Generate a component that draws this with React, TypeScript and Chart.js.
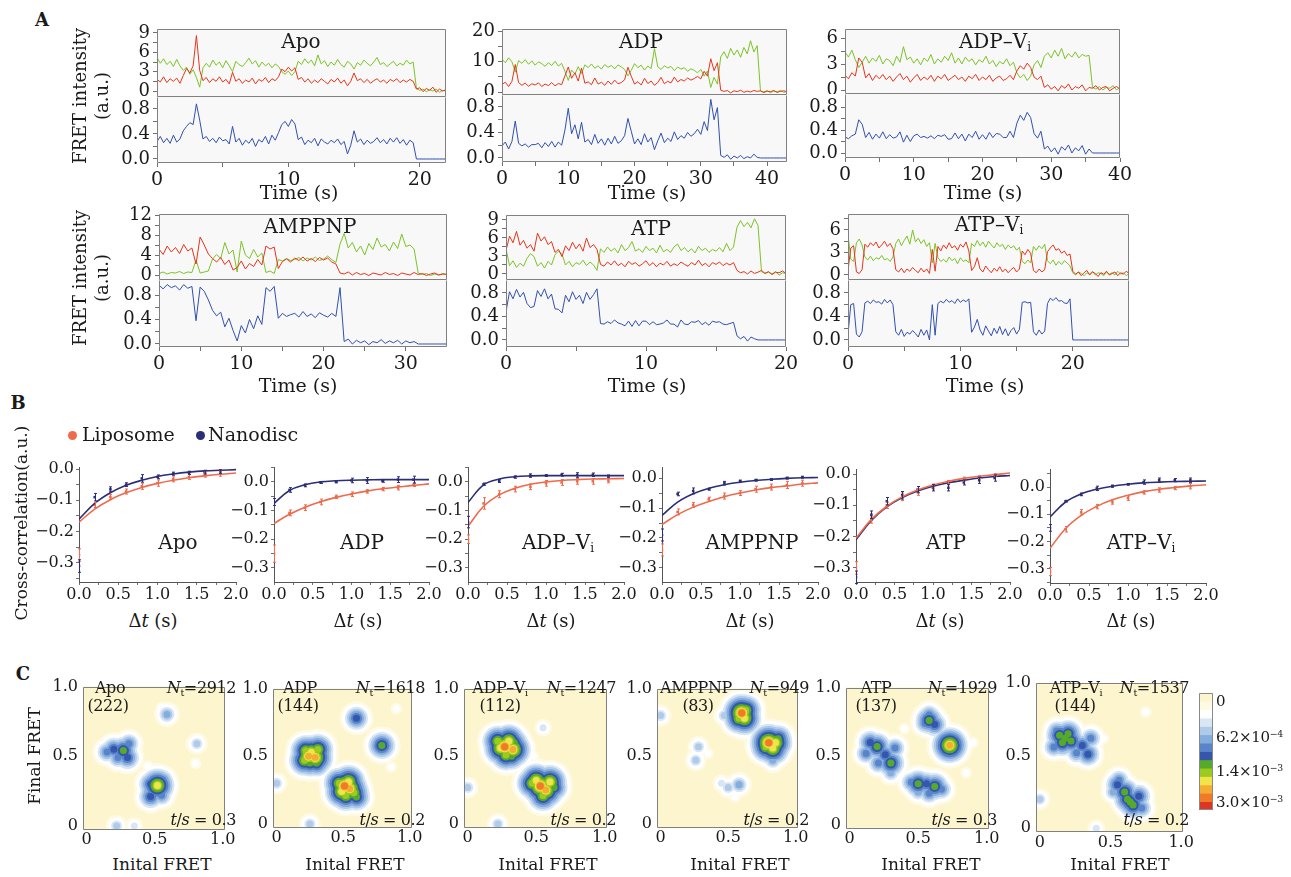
import React, { useEffect, useRef } from "react";
import { Chart, registerables } from "chart.js";

Chart.register(...registerables);

const FONT = "'DejaVu Serif', 'Liberation Serif', serif";
const INK = "#1a1a1a";
const GREEN = "#7cc425";
const RED = "#e8341c";
const BLUE = "#3150b0";
const LIPO = "#ef6a4c";
const NANO = "#2b2e76";
const PLOT_BG = "#f8f8f8";
const FRAME = "#808080";

// ---------------- Panel A : single-molecule traces ----------------
const apoDt = 0.25;
const apoGreen = [5.2,4.3,5.0,4.1,4.6,3.8,4.9,3.9,3.2,3.7,2.6,3.3,2.1,0.6,3.6,4.3,3.7,4.8,4.0,4.5,3.6,4.7,3.9,3.0,4.6,4.1,3.8,4.4,5.1,4.2,4.7,3.7,4.5,3.9,4.3,3.6,4.2,3.8,3.0,2.6,3.1,2.4,3.0,4.6,4.1,5.0,4.3,4.8,3.9,5.6,4.2,4.7,3.8,4.5,4.0,4.9,4.1,3.7,4.6,4.2,3.4,4.4,4.0,4.8,4.3,3.9,4.5,5.2,4.1,4.4,3.8,4.2,4.6,3.9,4.3,4.0,4.8,4.2,4.5,0.4,0.1,0.3,-0.1,0.2,0.0,0.3,-0.2,0.1,0.0];
const apoRed = [1.8,1.4,2.2,1.3,1.9,1.5,2.0,1.2,2.4,3.5,2.8,3.9,8.6,3.2,1.6,2.1,1.3,1.9,1.5,2.2,1.4,1.8,1.1,2.9,1.5,1.9,1.2,1.7,1.4,2.0,1.1,1.8,1.5,2.1,1.3,1.9,1.6,2.2,3.4,3.0,3.7,3.1,3.6,1.8,2.1,1.4,1.9,1.2,1.7,1.3,1.9,1.5,1.1,1.8,1.4,2.0,1.2,1.7,0.8,1.5,2.8,1.6,1.9,1.3,1.8,1.2,1.6,1.9,1.4,1.7,1.2,1.8,1.5,1.9,1.3,1.7,1.4,1.8,1.5,0.3,0.5,-0.1,0.4,0.1,0.6,-0.2,0.3,0.0,0.2];
const apoFret = [0.28,0.36,0.26,0.33,0.25,0.38,0.27,0.32,0.45,0.52,0.58,0.55,0.88,0.62,0.32,0.36,0.28,0.33,0.26,0.35,0.29,0.31,0.24,0.52,0.27,0.33,0.22,0.3,0.25,0.33,0.2,0.31,0.27,0.36,0.24,0.38,0.3,0.42,0.55,0.6,0.52,0.63,0.56,0.31,0.35,0.23,0.3,0.26,0.33,0.21,0.32,0.27,0.24,0.3,0.26,0.32,0.23,0.28,0.08,0.22,0.45,0.27,0.32,0.23,0.3,0.25,0.28,0.34,0.26,0.31,0.24,0.33,0.27,0.34,0.25,0.31,0.22,0.3,0.26,0,0,0,0,0,0,0,0,0,0];

const adpDt = 0.5;
const adpGreen = [10.8,9.6,11.2,9.9,6.5,10.3,9.4,10.6,9.1,10.2,8.8,9.9,9.3,8.4,9.6,8.7,10.1,8.5,9.4,6.8,3.8,7.2,5.9,8.3,6.1,8.9,8.0,9.2,7.8,8.6,7.5,9.0,8.1,8.7,7.6,8.9,8.2,7.4,5.3,7.1,9.3,8.0,8.8,7.2,8.5,7.7,14.2,8.3,7.4,8.6,7.9,8.4,7.0,8.2,7.5,8.0,6.8,7.6,7.1,6.3,7.4,5.2,6.9,1.5,4.8,2.6,11.5,13.2,11.0,14.3,12.1,13.8,11.4,14.6,12.5,16.8,13.1,15.2,0.3,0.1,0.4,-0.2,0.3,0.0,0.5,-0.1,0.2];
const adpRed = [2.5,3.2,1.8,3.5,9.0,3.1,2.2,2.9,1.9,2.7,2.3,3.0,1.8,2.6,2.1,3.1,2.0,2.8,2.4,5.3,8.2,4.5,6.3,3.6,7.8,2.9,3.3,2.4,4.6,2.6,3.2,2.2,3.6,2.5,3.9,2.7,3.1,4.0,8.1,5.2,2.6,3.4,2.3,4.5,2.8,3.6,2.2,3.1,4.8,2.7,3.5,3.0,4.9,3.3,4.1,3.6,4.6,3.9,4.4,5.1,4.3,6.8,5.2,10.9,7.0,9.6,0.6,0.2,0.5,-0.3,0.4,0.1,0.6,-0.1,0.3,0.0,0.5,0.2,0.4,-0.2,0.3,0.1,0.5,-0.1,0.2,0.4,0.1];
const adpFret = [0.19,0.25,0.14,0.26,0.58,0.23,0.19,0.22,0.17,0.21,0.21,0.23,0.16,0.24,0.18,0.26,0.17,0.25,0.2,0.44,0.78,0.38,0.52,0.3,0.56,0.25,0.29,0.21,0.37,0.23,0.3,0.2,0.31,0.22,0.34,0.23,0.27,0.35,0.62,0.42,0.22,0.3,0.21,0.38,0.25,0.32,0.13,0.27,0.39,0.24,0.31,0.26,0.41,0.29,0.35,0.31,0.4,0.34,0.38,0.45,0.37,0.57,0.43,0.92,0.6,0.79,0.04,0.01,0.05,-0.02,0.03,0.0,0.04,-0.01,0.02,0.0,0.06,0.01,0,0,0,0,0,0,0,0,0];

const adpViDt = 0.5;
const adpViGreen = [4.4,3.8,4.6,3.5,2.6,3.2,3.9,3.1,3.7,3.3,4.0,3.0,3.6,3.4,2.8,3.9,3.2,5.0,3.5,3.8,3.1,3.6,2.9,3.7,3.3,4.1,3.0,3.6,3.2,3.9,3.4,4.3,3.1,3.7,3.0,3.8,3.3,3.6,2.9,3.5,3.2,3.9,3.0,3.4,2.7,3.3,3.0,3.6,2.8,3.2,2.0,1.4,1.8,1.1,1.6,2.9,3.4,2.6,3.9,4.3,3.7,4.6,3.9,4.8,3.6,4.2,3.8,4.4,3.7,4.1,3.9,4.0,0.3,0.1,0.4,0.0,0.3,0.2,0.5,0.0,0.3];
const adpViRed = [1.7,1.3,2.0,1.6,3.7,3.2,1.4,1.9,1.1,1.7,1.3,1.8,1.2,1.6,1.0,1.5,1.9,1.2,1.6,0.9,1.4,1.8,1.1,1.5,1.2,1.7,1.0,1.6,1.3,1.8,1.1,1.4,1.7,1.2,1.5,1.0,1.6,1.3,1.8,1.1,1.5,1.2,1.7,1.0,1.4,1.6,1.1,1.3,1.7,1.2,2.2,2.8,2.4,3.1,2.6,1.5,1.2,1.6,0.3,0.6,0.1,0.4,-0.1,0.5,0.2,0.7,0.0,0.4,0.2,0.6,-0.1,0.3,0.2,0.5,0.0,0.3,0.4,-0.1,0.2,0.4,0.1];
const adpViFret = [0.28,0.25,0.3,0.33,0.58,0.5,0.27,0.36,0.24,0.33,0.26,0.37,0.25,0.32,0.26,0.28,0.37,0.19,0.31,0.2,0.3,0.33,0.27,0.29,0.26,0.3,0.25,0.31,0.29,0.32,0.24,0.25,0.35,0.25,0.33,0.21,0.33,0.27,0.38,0.24,0.32,0.24,0.36,0.27,0.34,0.33,0.27,0.27,0.38,0.27,0.52,0.66,0.57,0.71,0.62,0.34,0.26,0.38,0.07,0.12,0.02,0.09,-0.02,0.11,0.05,0.14,0.0,0.09,0.04,0.13,-0.02,0.07,0,0,0,0,0,0,0,0,0];

const amppnpDt = 0.5;
const amppnpRed = [5.2,4.1,5.8,4.6,5.5,4.3,6.1,4.8,5.4,2.2,7.6,6.0,4.2,3.3,2.6,3.5,2.1,3.0,1.0,1.5,2.8,1.2,2.3,1.7,3.1,2.0,5.8,5.2,5.6,1.3,2.7,3.2,2.6,3.4,2.9,3.6,2.8,3.3,2.7,3.5,3.0,3.4,2.6,2.2,0.4,0.2,0.6,0.0,0.5,0.1,0.3,-0.1,0.4,0.2,0.0,0.5,0.1,0.3,-0.1,0.4,0.2,0.0,0.5,0.1,0.3,-0.1,0.2,0.4,0.0,0.2,0.1];
const amppnpGreen = [0.3,0.6,0.2,0.5,0.4,0.7,0.3,0.6,0.5,3.0,0.4,0.6,0.8,3.2,4.1,3.3,6.5,4.2,5.0,0.6,6.8,4.0,3.3,5.1,3.6,4.4,0.5,0.8,0.3,3.1,2.8,3.3,2.9,3.1,3.5,2.8,3.4,3.0,3.6,2.9,3.2,3.8,3.1,2.5,6.2,8.3,5.4,6.5,4.6,5.8,4.0,6.3,5.1,7.4,5.6,6.1,4.8,6.6,5.3,8.2,5.7,6.0,5.2,0.4,0.1,0.3,-0.1,0.2,0.0,0.3,0.1];
const amppnpFret = [0.96,0.9,0.97,0.92,0.95,0.88,0.97,0.91,0.94,0.38,0.93,0.86,0.72,0.55,0.46,0.52,0.28,0.42,0.22,0.05,0.3,0.18,0.4,0.25,0.46,0.32,0.92,0.86,0.94,0.42,0.5,0.45,0.48,0.5,0.44,0.53,0.45,0.49,0.43,0.51,0.47,0.44,0.5,0.45,0.92,0.04,0.08,0.0,0.06,0.02,0.05,-0.01,0.04,0.02,0.07,0.01,0.05,0.02,0.06,0.0,0.05,0.02,0.04,0,0,0,0,0,0,0,0];

const atpDt = 0.25;
const atpRed = [3.9,6.3,5.2,7.1,4.8,5.6,4.3,4.9,3.8,6.8,5.5,6.2,4.9,5.4,3.6,4.1,2.9,4.7,3.9,5.3,4.2,5.0,3.8,6.0,4.4,4.9,4.1,1.6,1.3,2.0,1.5,2.2,1.4,1.8,1.2,2.1,1.6,1.9,1.3,1.7,2.2,1.4,1.9,1.2,1.8,1.5,2.1,1.3,1.7,1.4,2.0,1.6,1.3,1.9,1.5,2.3,1.4,1.8,1.2,1.9,1.6,2.0,1.4,1.8,1.5,1.9,0.6,0.2,0.4,0.0,0.5,0.1,0.3,0.6,0.1,0.4,-0.1,0.3,0.2,0.5,0.1];
const atpGreen = [4.2,1.4,2.2,1.1,1.8,1.3,2.6,3.4,2.9,1.3,1.9,1.0,2.1,1.5,3.2,3.8,3.3,1.5,2.1,1.2,1.9,1.6,2.3,1.4,2.0,1.5,0.6,4.2,3.6,4.5,3.8,4.3,3.5,4.9,3.9,4.4,5.4,3.8,4.2,3.6,4.6,3.9,4.3,3.5,4.8,3.7,4.1,3.6,4.5,5.0,3.9,4.4,3.7,4.2,3.5,4.6,3.9,4.3,3.6,4.1,3.8,4.4,3.7,5.1,3.9,4.5,7.8,8.9,7.9,8.6,7.7,9.2,8.1,0.4,0.1,0.3,0.0,0.4,-0.2,0.2,0.1];
const atpFret = [0.48,0.82,0.7,0.86,0.73,0.81,0.62,0.55,0.57,0.84,0.74,0.87,0.7,0.78,0.53,0.52,0.46,0.76,0.65,0.82,0.69,0.76,0.62,0.81,0.69,0.77,0.87,0.28,0.27,0.31,0.28,0.34,0.29,0.27,0.24,0.32,0.23,0.33,0.24,0.32,0.32,0.26,0.31,0.26,0.27,0.29,0.34,0.27,0.27,0.22,0.34,0.27,0.26,0.31,0.3,0.33,0.26,0.3,0.25,0.32,0.3,0.31,0.27,0.26,0.28,0.3,0.07,0.02,0.06,-0.02,0.05,0.02,0,0,0,0,0,0,0,0,0];

const atpViDt = 0.25;
const atpViRed = [0.6,3.6,3.9,0.4,0.2,0.7,4.1,3.7,4.3,3.9,4.4,3.6,4.0,4.5,3.8,4.2,3.5,0.7,0.4,0.9,0.3,0.8,0.5,1.0,0.6,0.3,0.9,0.4,0.8,0.2,3.4,0.5,3.8,3.2,4.0,3.5,4.3,3.6,3.9,3.3,4.1,3.7,4.4,3.2,0.6,1.1,2.3,0.8,0.4,1.2,0.7,0.3,0.9,0.5,1.1,0.4,0.8,0.3,0.7,1.0,0.4,0.8,3.2,2.7,3.4,2.9,0.6,0.3,0.8,0.4,0.7,3.1,3.6,4.0,3.3,3.5,2.9,3.2,2.6,2.8,0.5,0.1,0.4,-0.1,0.3,0.6,0.0,0.4,0.2,-0.2,0.3,0.1,0.5,0.0,0.2,0.4,-0.1,0.3,0.1,0.5,0.2];
const atpViGreen = [5.4,2.1,1.8,4.3,4.8,4.0,2.4,2.0,2.5,1.9,2.3,2.1,2.6,2.0,2.2,1.8,2.4,4.2,4.8,3.9,4.6,5.2,4.1,6.0,4.4,4.9,4.2,4.7,3.8,4.3,1.6,4.2,2.3,1.8,2.1,1.7,2.4,1.9,2.2,1.5,2.3,1.8,2.0,1.6,4.2,3.8,4.6,3.9,4.4,3.7,4.5,4.0,3.6,4.3,3.8,4.1,3.4,4.0,3.6,3.9,3.3,3.7,1.8,1.5,2.0,1.6,3.8,3.3,3.9,3.5,4.1,1.9,1.5,2.0,1.3,1.8,1.4,1.9,1.6,1.2,0.3,0.0,0.4,0.2,-0.1,0.3,0.1,0.5,0.0,0.3,0.2,-0.1,0.4,0.1,0.3,0.0,0.5,0.1,0.3,-0.1,0.2];
const atpViFret = [0.1,0.6,0.62,0.1,0.05,0.14,0.63,0.66,0.62,0.68,0.64,0.65,0.61,0.69,0.63,0.68,0.6,0.14,0.08,0.18,0.06,0.13,0.1,0.16,0.11,0.05,0.18,0.08,0.17,0.0,0.6,0.08,0.62,0.66,0.63,0.69,0.64,0.67,0.62,0.7,0.64,0.68,0.65,0.7,0.13,0.22,0.35,0.17,0.08,0.24,0.15,0.07,0.2,0.11,0.23,0.09,0.19,0.07,0.16,0.21,0.1,0.18,0.64,0.65,0.63,0.64,0.14,0.08,0.17,0.1,0.15,0.62,0.71,0.67,0.72,0.66,0.67,0.63,0.62,0.7,0,0,0,0,0,0,0,0,0,0,0,0,0,0,0,0,0,0,0,0,0];

// ---------------- Panel B : cross-correlation ----------------
const lagPoints = [0, 0.2, 0.4, 0.6, 0.8, 1.0, 1.2, 1.4, 1.6, 1.8];
const lagFit = [0, 0.2, 0.4, 0.6, 0.8, 1.0, 1.2, 1.4, 1.6, 1.8, 2.0];

const apoLipo = [-0.275,-0.115,-0.09,-0.072,-0.055,-0.045,-0.033,-0.025,-0.018,-0.015];
const apoLipoErr = [0.02,0.008,0.008,0.008,0.01,0.01,0.008,0.008,0.008,0.008];
const apoLipoFit = [-0.17,-0.128,-0.098,-0.076,-0.059,-0.046,-0.036,-0.028,-0.022,-0.017,-0.013];
const apoNano = [-0.31,-0.09,-0.065,-0.05,-0.03,-0.025,-0.015,-0.012,-0.01,-0.008];
const apoNanoErr = [0.02,0.012,0.008,0.006,0.012,0.006,0.005,0.005,0.006,0.006];
const apoNanoFit = [-0.16,-0.11,-0.076,-0.052,-0.036,-0.024,-0.016,-0.01,-0.006,-0.004,-0.002];

const adpLipo = [-0.25,-0.108,-0.09,-0.07,-0.052,-0.043,-0.033,-0.025,-0.02,-0.01];
const adpLipoErr = [0.03,0.01,0.01,0.01,0.006,0.008,0.006,0.006,0.008,0.006];
const adpLipoFit = [-0.145,-0.113,-0.088,-0.069,-0.054,-0.042,-0.032,-0.024,-0.018,-0.012,-0.007];
const adpNano = [-0.07,-0.028,-0.012,-0.002,0.0,0.005,0.005,0.003,0.008,0.008];
const adpNanoErr = [0.012,0.008,0.005,0.003,0.003,0.008,0.01,0.004,0.01,0.012];
const adpNanoFit = [-0.075,-0.03,-0.01,0.0,0.004,0.006,0.007,0.008,0.008,0.008,0.008];

const adpViLipo = [-0.2,-0.075,-0.043,-0.025,-0.017,-0.005,-0.002,0.002,0.002,0.005];
const adpViLipoErr = [0.015,0.02,0.012,0.01,0.01,0.01,0.01,0.01,0.01,0.008];
const adpViLipoFit = [-0.155,-0.085,-0.045,-0.022,-0.008,0.0,0.005,0.008,0.01,0.011,0.012];
const adpViNano = [-0.14,-0.008,0.003,0.017,0.022,0.022,0.025,0.024,0.025,0.02];
const adpViNanoErr = [0.02,0.004,0.005,0.004,0.006,0.003,0.005,0.008,0.006,0.004];
const adpViNanoFit = [-0.072,-0.01,0.01,0.018,0.021,0.022,0.022,0.022,0.022,0.022,0.022];

const amppnpLipo = [-0.24,-0.113,-0.09,-0.07,-0.06,-0.05,-0.037,-0.03,-0.023,-0.017];
const amppnpLipoErr = [0.02,0.01,0.008,0.006,0.01,0.008,0.01,0.01,0.012,0.01];
const amppnpLipoFit = [-0.155,-0.122,-0.097,-0.078,-0.062,-0.05,-0.04,-0.032,-0.026,-0.02,-0.016];
const amppnpNano = [-0.19,-0.053,-0.043,-0.037,-0.017,-0.01,-0.007,-0.005,0.0,0.003];
const amppnpNanoErr = [0.02,0.006,0.01,0.003,0.006,0.003,0.003,0.003,0.003,0.003];
const amppnpNanoFit = [-0.125,-0.08,-0.052,-0.034,-0.022,-0.014,-0.008,-0.004,-0.001,0.001,0.002];

const atpLipo = [-0.3,-0.147,-0.1,-0.073,-0.058,-0.04,-0.027,-0.016,-0.01,-0.003];
const atpLipoErr = [0.02,0.01,0.01,0.012,0.01,0.008,0.006,0.006,0.004,0.004];
const atpLipoFit = [-0.205,-0.145,-0.103,-0.073,-0.051,-0.035,-0.023,-0.014,-0.007,-0.002,0.003];
const atpNano = [-0.33,-0.13,-0.087,-0.068,-0.05,-0.044,-0.044,-0.027,-0.02,-0.013];
const atpNanoErr = [0.02,0.012,0.012,0.012,0.01,0.01,0.01,0.008,0.01,0.01];
const atpNanoFit = [-0.21,-0.148,-0.105,-0.075,-0.054,-0.039,-0.028,-0.02,-0.013,-0.008,-0.005];

const atpViLipo = [-0.31,-0.155,-0.093,-0.072,-0.055,-0.041,-0.02,-0.011,-0.004,0.003];
const atpViLipoErr = [0.015,0.01,0.01,0.008,0.008,0.008,0.006,0.008,0.006,0.01];
const atpViLipoFit = [-0.225,-0.152,-0.104,-0.071,-0.047,-0.03,-0.017,-0.008,-0.002,0.004,0.008];
const atpViNano = [-0.15,-0.052,-0.027,-0.005,0.003,0.01,0.018,0.025,0.025,0.025];
const atpViNanoErr = [0.012,0.003,0.005,0.008,0.004,0.003,0.008,0.008,0.006,0.008];
const atpViNanoFit = [-0.11,-0.055,-0.025,-0.008,0.003,0.01,0.015,0.018,0.02,0.021,0.022];

// ---------------- Panel C : transition density peaks [initial FRET, final FRET, density level] ----------------
const tdpApo = [[0.27,0.54,9],[0.2,0.55,8],[0.3,0.49,8],[0.23,0.49,7],[0.31,0.59,7],[0.15,0.53,7],[0.52,0.29,11],[0.47,0.3,8],[0.56,0.33,7],[0.47,0.21,8],[0.55,0.22,7],[0.45,0.25,6],[0.59,0.8,6],[0.81,0.59,5],[0.8,0.45,3],[0.45,0.43,3],[0.22,0.0,5],[0.35,0.0,4],[0.55,0.85,3]];
const tdpAdp = [[0.24,0.5,12],[0.29,0.49,12],[0.26,0.53,11],[0.22,0.54,10],[0.31,0.55,10],[0.21,0.47,10],[0.3,0.45,9],[0.25,0.45,9],[0.51,0.28,13],[0.55,0.26,12],[0.49,0.24,11],[0.54,0.31,11],[0.58,0.23,10],[0.47,0.3,10],[0.6,0.2,9],[0.52,0.21,10],[0.6,0.78,8],[0.79,0.58,9],[0.77,0.55,6],[0.0,0.3,5],[0.25,0.0,5],[0.86,0.42,3],[0.9,0.85,3]];
const tdpAdpVi = [[0.27,0.57,13],[0.33,0.55,12],[0.24,0.56,11],[0.3,0.61,11],[0.22,0.61,10],[0.28,0.51,10],[0.34,0.6,9],[0.32,0.5,9],[0.53,0.28,13],[0.57,0.25,12],[0.5,0.32,11],[0.6,0.31,11],[0.47,0.3,10],[0.55,0.21,10],[0.63,0.27,9],[0.52,0.34,9],[0.55,0.71,4],[0.0,0.27,5],[0.22,0.0,5],[0.4,0.42,3],[0.48,0.5,3]];
const tdpAmppnp = [[0.6,0.82,13],[0.62,0.78,11],[0.58,0.78,10],[0.63,0.84,10],[0.57,0.84,9],[0.8,0.6,13],[0.85,0.6,11],[0.83,0.56,11],[0.78,0.57,10],[0.87,0.63,9],[0.83,0.47,6],[0.28,0.57,5],[0.26,0.47,5],[0.58,0.29,6],[0.5,0.27,5],[0.47,0.8,5],[0.0,0.8,5],[0.35,0.52,3],[0.55,0.2,3],[0.45,0.3,4]];
const tdpAtp = [[0.2,0.57,9],[0.3,0.45,9],[0.26,0.51,8],[0.15,0.6,8],[0.33,0.56,7],[0.21,0.45,7],[0.12,0.52,7],[0.3,0.38,6],[0.58,0.76,9],[0.62,0.73,8],[0.55,0.74,7],[0.58,0.8,7],[0.73,0.58,12],[0.75,0.55,8],[0.76,0.62,7],[0.71,0.53,6],[0.5,0.3,9],[0.62,0.28,9],[0.56,0.3,8],[0.45,0.31,7],[0.58,0.23,7],[0.67,0.26,7],[0.5,0.24,6],[0.85,0.38,3],[0.4,0.7,3],[0.9,0.6,3]];
const tdpAtpVi = [[0.14,0.64,9],[0.18,0.62,9],[0.22,0.6,9],[0.16,0.59,9],[0.2,0.65,9],[0.3,0.57,8],[0.34,0.51,8],[0.12,0.67,7],[0.26,0.52,7],[0.36,0.62,7],[0.1,0.56,7],[0.62,0.2,9],[0.66,0.16,9],[0.6,0.25,9],[0.64,0.18,9],[0.55,0.3,8],[0.7,0.22,8],[0.56,0.33,7],[0.72,0.14,7],[0.52,0.25,6],[0.0,0.2,5],[0.4,0.0,4],[0.75,0.8,3],[0.45,0.62,3]];

const TDP_COLORS = ["#fcf5cd","#fefae4","#ffffff","#d9e7f5","#b0cbea","#84acdc","#5a84ca","#3457ab","#56aa2a","#9cca1f","#efe44a","#f5ad31","#ef7a27","#de3522"];
const colorbarLabels = ["0", "6.2×10", "1.4×10", "3.0×10"];
const colorbarExp = ["", "−4", "−3", "−3"];

// drawing only: distance (px) of each contour level from the densest contour
const LEVEL_REACH = [0, 22, 19.5, 16.5, 14.5, 12.5, 10.5, 8.5, 6.5, 4.5, 3, 2, 1, 0];
const PEAK_PLATEAU = 3.5;

// ---------------- helpers ----------------
const framePlugin = {
  id: "frame",
  beforeDraw(chart: any, _a: any, o: any) {
    if (!o || !o.bg) return;
    const { ctx, chartArea: a } = chart;
    ctx.save();
    ctx.fillStyle = o.bg;
    ctx.fillRect(a.left, a.top, a.right - a.left, a.bottom - a.top);
    ctx.restore();
  },
  afterDraw(chart: any, _a: any, o: any) {
    if (!o || !o.border) return;
    const { ctx, chartArea: a } = chart;
    const x0 = Math.round(a.left) + 0.5, y0 = Math.round(a.top) + 0.5;
    const x1 = Math.round(a.right) - 0.5, y1 = Math.round(a.bottom) - 0.5;
    ctx.save();
    ctx.strokeStyle = o.border;
    ctx.lineWidth = 1;
    ctx.beginPath();
    if (o.noTop) {
      ctx.moveTo(x0, y0); ctx.lineTo(x0, y1); ctx.lineTo(x1, y1); ctx.lineTo(x1, y0);
    } else {
      ctx.rect(x0, y0, x1 - x0, y1 - y0);
    }
    ctx.stroke();
    ctx.restore();
  },
};

const errPlugin = {
  id: "errbars",
  afterDatasetsDraw(chart: any) {
    const { ctx } = chart;
    const xs = chart.scales.x;
    const ys = chart.scales.y;
    chart.data.datasets.forEach((ds: any) => {
      if (!ds.errors) return;
      ctx.save();
      ctx.strokeStyle = ds.backgroundColor;
      ctx.lineWidth = 1;
      ds.data.forEach((p: any, j: number) => {
        const e = ds.errors[j];
        const x = Math.round(xs.getPixelForValue(p.x)) + 0.5;
        const y1 = ys.getPixelForValue(p.y + e);
        const y2 = ys.getPixelForValue(p.y - e);
        ctx.beginPath();
        ctx.moveTo(x, y1); ctx.lineTo(x, y2);
        ctx.moveTo(x - 1.5, y1); ctx.lineTo(x + 1.5, y1);
        ctx.moveTo(x - 1.5, y2); ctx.lineTo(x + 1.5, y2);
        ctx.stroke();
      });
      ctx.restore();
    });
  },
};

function axis(o: any) {
  const all = [...o.major, ...(o.minor || [])]
    .filter((v: number) => v >= o.min - 1e-9 && v <= o.max + 1e-9)
    .sort((a: number, b: number) => a - b);
  return {
    type: "linear",
    min: o.min,
    max: o.max,
    afterBuildTicks: (s: any) => { s.ticks = all.map((v: number) => ({ value: v })); },
    afterFit: (s: any) => {
      if (o.vertical) { s.width = o.fit; s.paddingTop = 0; s.paddingBottom = 0; }
      else { s.height = o.fit; s.paddingLeft = 0; s.paddingRight = 0; }
    },
    ticks: {
      display: o.labels !== false,
      autoSkip: false,
      maxRotation: 0,
      minRotation: 0,
      padding: o.pad ?? 3,
      color: INK,
      font: { family: FONT, size: o.size ?? 18 },
      callback: (v: number) => (o.major.some((m: number) => Math.abs(m - v) < 1e-9) ? o.fmt(v) : ""),
    },
    grid: { display: (o.tick ?? 0) > 0, drawOnChartArea: false, drawTicks: true, tickLength: o.tick ?? 0, color: o.tickColor || "#707070", lineWidth: 1 },
    border: { display: !!o.border, color: o.border || "#555", width: 1 },
  };
}

function baseOptions(m: number[], scales: any, frame: any) {
  return {
    responsive: false,
    maintainAspectRatio: false,
    animation: false,
    events: [],
    devicePixelRatio: 1,
    layout: { padding: { left: 0, top: m[1], right: m[2], bottom: 0 } },
    plugins: { legend: { display: false }, tooltip: { enabled: false }, frame },
    scales,
  };
}

const fmt1 = (v: number) => (v < -1e-9 ? "−" : "") + Math.abs(v).toFixed(1);
const fmtInt = (v: number) => String(Math.round(v));
const fmtC = (v: number) => (Math.abs(v) < 1e-9 ? "0" : v.toFixed(1));

type Spec = { key: string; box: number[]; m: number[]; make: () => any };

const A_PANELS = [
  { dt: apoDt, green: apoGreen, red: apoRed, fret: apoFret, xMax: 22, xMajor: [0,10,20], xMinor: [5,15], up: [-0.93, 9.62], upMajor: [0,3,6,9], upMinor: [1.5,4.5,7.5], lo: [-0.064, 0.99], box: [157, 29, 446, 97, 163] },
  { dt: adpDt, green: adpGreen, red: adpRed, fret: adpFret, xMax: 43, xMajor: [0,10,20,30,40], xMinor: [5,15,25,35], up: [-0.98, 20.66], upMajor: [0,10,20], upMinor: [5,15], lo: [-0.063, 0.988], box: [502, 29, 787, 95, 162] },
  { dt: adpViDt, green: adpViGreen, red: adpViRed, fret: adpViFret, xMax: 40, xMajor: [0,10,20,30,40], xMinor: [5,15,25,35], up: [-0.46, 7.04], upMajor: [0,3,6], upMinor: [1.5,4.5], lo: [-0.087, 1.03], box: [845, 29, 1120, 94, 158] },
  { dt: amppnpDt, green: amppnpGreen, red: amppnpRed, fret: amppnpFret, xMax: 35, xMajor: [0,10,20,30], xMinor: [5,15,25], up: [-1.0, 12.2], upMajor: [0,4,8,12], upMinor: [2,6,10], lo: [-0.049, 1.045], box: [159, 214, 447, 280, 347] },
  { dt: atpDt, green: atpGreen, red: atpRed, fret: atpFret, xMax: 20, xMajor: [0,10,20], xMinor: [5,15], up: [-1.0, 9.83], upMajor: [0,3,6,9], upMinor: [1.5,4.5,7.5], lo: [-0.12, 1.02], box: [506, 215, 786, 280, 347] },
  { dt: atpViDt, green: atpViGreen, red: atpViRed, fret: atpViFret, xMax: 25, xMajor: [0,10,20], xMinor: [5,15], up: [-0.67, 8.13], upMajor: [0,3,6], upMinor: [1.5,4.5,7.5], lo: [-0.12, 1.02], box: [848, 214, 1129, 280, 347] },
];

const B_PANELS = [
  { lipo: apoLipo, lipoErr: apoLipoErr, lipoFit: apoLipoFit, nano: apoNano, nanoErr: apoNanoErr, nanoFit: apoNanoFit, box: [79, 467, 236, 582], y: [-0.361, 0.0064] },
  { lipo: adpLipo, lipoErr: adpLipoErr, lipoFit: adpLipoFit, nano: adpNano, nanoErr: adpNanoErr, nanoFit: adpNanoFit, box: [274, 467, 429, 582], y: [-0.349, 0.052] },
  { lipo: adpViLipo, lipoErr: adpViLipoErr, lipoFit: adpViLipoFit, nano: adpViNano, nanoErr: adpViNanoErr, nanoFit: adpViNanoFit, box: [468, 467, 624, 582], y: [-0.349, 0.052] },
  { lipo: amppnpLipo, lipoErr: amppnpLipoErr, lipoFit: amppnpLipoFit, nano: amppnpNano, nanoErr: amppnpNanoErr, nanoFit: amppnpNanoFit, box: [662, 467, 818, 582], y: [-0.347, 0.037] },
  { lipo: atpLipo, lipoErr: atpLipoErr, lipoFit: atpLipoFit, nano: atpNano, nanoErr: atpNanoErr, nanoFit: atpNanoFit, box: [856, 469, 1010, 582], y: [-0.345, 0.016] },
  { lipo: atpViLipo, lipoErr: atpViLipoErr, lipoFit: atpViLipoFit, nano: atpViNano, nanoErr: atpViNanoErr, nanoFit: atpViNanoFit, box: [1050, 469, 1206, 583], y: [-0.352, 0.066] },
];

const C_PANELS = [
  { peaks: tdpApo, box: [83, 674, 237, 832] },
  { peaks: tdpAdp, box: [273, 674, 426, 832] },
  { peaks: tdpAdpVi, box: [464, 674, 621, 832] },
  { peaks: tdpAmppnp, box: [657, 674, 812, 832] },
  { peaks: tdpAtp, box: [846, 674, 1002, 832] },
  { peaks: tdpAtpVi, box: [1036, 674, 1192, 832] },
];

function traceSeries(arr: number[], dt: number) {
  return arr.map((v, j) => ({ x: Math.round(j * dt * 1000) / 1000, y: v }));
}

function buildSpecs(): Spec[] {
  const specs: Spec[] = [];
  A_PANELS.forEach((p, i) => {
    const [l, t, r, mid, b] = p.box;
    const mU = [52, 14, 16, 0];
    const mL = [52, 2, 16, 32];
    specs.push({
      key: "au" + i, box: [l, t, r, mid], m: mU,
      make: () => ({
        type: "scatter",
        data: { datasets: [
          { data: traceSeries(p.red, p.dt), showLine: true, borderColor: RED, backgroundColor: RED, borderWidth: 1, pointRadius: 0, tension: 0 },
          { data: traceSeries(p.green, p.dt), showLine: true, borderColor: GREEN, backgroundColor: GREEN, borderWidth: 1, pointRadius: 0, tension: 0 },
        ] },
        options: baseOptions(mU, {
          x: axis({ min: 0, max: p.xMax, major: p.xMajor, minor: p.xMinor, fmt: fmtInt, labels: false, tick: 0, fit: 0 }),
          y: axis({ vertical: true, min: p.up[0], max: p.up[1], major: p.upMajor, minor: p.upMinor, fmt: fmtInt, tick: 4, pad: 3, size: 18, fit: mU[0] }),
        }, { bg: PLOT_BG, border: FRAME }),
        plugins: [framePlugin],
      }),
    });
    specs.push({
      key: "al" + i, box: [l, mid, r, b], m: mL,
      make: () => ({
        type: "scatter",
        data: { datasets: [
          { data: traceSeries(p.fret, p.dt), showLine: true, borderColor: BLUE, backgroundColor: BLUE, borderWidth: 1, pointRadius: 0, tension: 0 },
        ] },
        options: baseOptions(mL, {
          x: axis({ min: 0, max: p.xMax, major: p.xMajor, minor: p.xMinor, fmt: fmtInt, tick: 4, pad: 2, size: 19, fit: mL[3] }),
          y: axis({ vertical: true, min: p.lo[0], max: p.lo[1], major: [0, 0.4, 0.8], minor: [0.2, 0.6], fmt: (v: number) => v.toFixed(1), tick: 4, pad: 3, size: 18, fit: mL[0] }),
        }, { bg: PLOT_BG, border: FRAME, noTop: true }),
        plugins: [framePlugin],
      }),
    });
  });

  B_PANELS.forEach((p, i) => {
    const m = [52, 8, 14, 24];
    const pts = (arr: number[]) => arr.map((v, j) => ({ x: lagPoints[j], y: v }));
    const fit = (arr: number[]) => arr.map((v, j) => ({ x: lagFit[j], y: v }));
    specs.push({
      key: "b" + i, box: p.box, m,
      make: () => ({
        type: "scatter",
        data: { datasets: [
          { data: fit(p.lipoFit), showLine: true, borderColor: LIPO, backgroundColor: LIPO, borderWidth: 1.6, pointRadius: 0, tension: 0.4 },
          { data: fit(p.nanoFit), showLine: true, borderColor: NANO, backgroundColor: NANO, borderWidth: 1.6, pointRadius: 0, tension: 0.4 },
          { data: pts(p.lipo), errors: p.lipoErr, backgroundColor: LIPO, borderColor: LIPO, pointStyle: "rect", pointRadius: 1.8, borderWidth: 0 },
          { data: pts(p.nano), errors: p.nanoErr, backgroundColor: NANO, borderColor: NANO, pointStyle: "rect", pointRadius: 1.8, borderWidth: 0 },
        ] },
        options: baseOptions(m, {
          x: axis({ min: 0, max: 2, major: [0, 0.5, 1, 1.5, 2], minor: [0.25, 0.75, 1.25, 1.75], fmt: (v: number) => v.toFixed(1), tick: 3, pad: 0, size: 16, fit: m[3], border: "#555" }),
          y: axis({ vertical: true, min: p.y[0], max: p.y[1], major: [-0.3, -0.2, -0.1, 0], minor: [-0.35, -0.25, -0.15, -0.05, 0.05], fmt: fmt1, tick: 3, pad: 2, size: 16, fit: m[0], border: "#555" }),
        }, {}),
        plugins: [framePlugin, errPlugin],
      }),
    });
  });

  C_PANELS.forEach((p, i) => {
    const m = [40, 10, 10, 20];
    specs.push({
      key: "c" + i, box: p.box, m,
      make: () => {
        const datasets: any[] = [];
        for (let lv = 2; lv <= TDP_COLORS.length; lv++) {
          const sel = p.peaks.filter((q) => q[2] >= lv);
          if (!sel.length) continue;
          datasets.push({
            data: sel.map((q) => ({ x: q[0], y: q[1] })),
            pointRadius: sel.map((q) => PEAK_PLATEAU + LEVEL_REACH[lv - 1] - LEVEL_REACH[q[2] - 1]),
            backgroundColor: TDP_COLORS[lv - 1],
            borderWidth: 0,
            pointStyle: "circle",
            order: 100 - lv,
            clip: 0,
          });
        }
        return {
          type: "scatter",
          data: { datasets },
          options: baseOptions(m, {
            x: axis({ min: -0.027, max: 1.013, major: [0, 0.5, 1], fmt: fmtC, tick: 0, pad: 1, size: 16, fit: m[3] }),
            y: axis({ vertical: true, min: -0.026, max: 1.0, major: [0, 0.5, 1], fmt: fmtC, tick: 0, pad: 5, size: 16, fit: m[0] }),
          }, { bg: TDP_COLORS[0], border: FRAME }),
          plugins: [framePlugin],
        };
      },
    });
  });

  specs.push({
    key: "cbar", box: [1199, 693, 1213, 810], m: [0, 0, 0, 0],
    make: () => ({
      type: "bar",
      data: {
        labels: ["density"],
        datasets: TDP_COLORS.map((c) => ({ data: [1], backgroundColor: c, borderWidth: 0, barPercentage: 1, categoryPercentage: 1 })),
      },
      options: {
        responsive: false, maintainAspectRatio: false, animation: false, events: [], devicePixelRatio: 1,
        layout: { padding: 0 },
        plugins: { legend: { display: false }, tooltip: { enabled: false }, frame: { border: "#8a8a8a" } },
        scales: {
          x: { stacked: true, display: false },
          y: { stacked: true, display: false, reverse: true, min: 0, max: TDP_COLORS.length },
        },
      },
      plugins: [framePlugin],
    }),
  });
  return specs;
}

function ChartCanvas({ spec }: { spec: Spec }) {
  const ref = useRef<HTMLCanvasElement>(null);
  const [l, t, r, b] = spec.box;
  const [ml, mt, mr, mb] = spec.m;
  const W = r - l + ml + mr;
  const H = b - t + mt + mb;
  useEffect(() => {
    const chart = new Chart(ref.current as HTMLCanvasElement, spec.make());
    return () => chart.destroy();
  }, []);
  return (
    <canvas
      ref={ref}
      width={W}
      height={H}
      style={{ position: "absolute", left: l - ml, top: t - mt, width: W, height: H, display: "block" }}
    />
  );
}

function Sub({ children }: any) {
  return <span style={{ fontSize: "0.6em", verticalAlign: "-0.3em", lineHeight: 0 }}>{children}</span>;
}
function Sup({ children }: any) {
  return <span style={{ fontSize: "0.62em", verticalAlign: "0.6em", lineHeight: 0 }}>{children}</span>;
}

function T({ x, y, size = 18, align = "c", rot = false, bold = false, children, style }: any) {
  const tx = align === "c" ? "-50%" : align === "r" ? "-100%" : "0";
  return (
    <div
      style={{
        position: "absolute", left: x, top: y, fontSize: size, fontFamily: FONT, color: INK,
        fontWeight: bold ? "bold" : "normal", whiteSpace: "nowrap", lineHeight: 1.15, textAlign: "center",
        transform: `translate(${tx}, -50%)` + (rot ? " rotate(-90deg)" : ""),
        ...style,
      }}
    >
      {children}
    </div>
  );
}

const Vi = (name: string) => (<>{name}–V<Sub>i</Sub></>);

const A_TITLES: any[] = [["Apo", 301, 41], ["ADP", 641, 41], ["ADPVI", 995, 41], ["AMPPNP", 310, 226], ["ATP", 651, 228], ["ATPVI", 989, 224]];
const A_TIME = [[299, 193], [647, 193], [983, 193], [298, 386], [647, 386], [985, 386]];
const B_NAMES: any[] = [["Apo", 178, 542], ["ADP", 362, 542], ["ADPVI", 558, 542], ["AMPPNP", 752, 542], ["ATP", 946, 542], ["ATPVI", 1141, 542]];
const B_DT = [153, 358, 551, 750, 940, 1131];
const C_XLAB = [162, 355, 548, 740, 931, 1120];
const C_NAMES: any[] = [["Apo", 110, "222", 108], ["ADP", 300, "144", 298], ["ADPVI", 500, "112", 500], ["AMPPNP", 696, "83", 698], ["ATP", 876, "137", 876], ["ATPVI", 1076, "144", 1075]];
const C_NT = ["2912", "1618", "1247", "949", "1929", "1537"];
const C_TS = ["0.3", "0.2", "0.2", "0.2", "0.3", "0.2"];
const C_RIGHT = [236, 425, 616, 809, 997, 1189];

function label(n: string) {
  if (n === "ADPVI") return Vi("ADP");
  if (n === "ATPVI") return Vi("ATP");
  return n;
}

const CSTYLE = { letterSpacing: "-0.4px" };

export default function App() {
  const specs = React.useMemo(() => buildSpecs(), []);
  return (
    <div style={{ position: "absolute", left: 0, top: 0, width: 1291, height: 877, background: "#fff", overflow: "hidden" }}>
      {specs.map((s) => <ChartCanvas key={s.key} spec={s} />)}

      <T x={42} y={20} size={18} bold>A</T>
      <T x={18} y={403} size={18} bold>B</T>
      <T x={23} y={674} size={18} bold>C</T>

      <T x={91} y={96} size={18} rot style={{ lineHeight: "22px" }}>FRET intensity<br />(a.u.)</T>
      <T x={91} y={278} size={18} rot style={{ lineHeight: "22px" }}>FRET intensity<br />(a.u.)</T>
      {A_TITLES.map((a, i) => <T key={"at" + i} x={a[1]} y={a[2]} size={20}>{label(a[0])}</T>)}
      {A_TIME.map((a, i) => <T key={"tt" + i} x={a[0]} y={a[1]} size={19}>Time (s)</T>)}

      <div style={{ position: "absolute", left: 67.5, top: 430.5, width: 9, height: 9, borderRadius: "50%", background: LIPO }} />
      <T x={82} y={435} size={19} align="l">Liposome</T>
      <div style={{ position: "absolute", left: 195.5, top: 430.5, width: 9, height: 9, borderRadius: "50%", background: NANO }} />
      <T x={208} y={435} size={19} align="l">Nanodisc</T>
      <T x={22} y={523} size={17} rot>Cross-correlation(a.u.)</T>
      {B_NAMES.map((a, i) => <T key={"bn" + i} x={a[1]} y={a[2]} size={20}>{label(a[0])}</T>)}
      {B_DT.map((x, i) => <T key={"bd" + i} x={x} y={621} size={18}>Δ<i>t</i> (s)</T>)}

      <T x={35} y={756} size={17} rot>Final FRET</T>
      {C_XLAB.map((x, i) => <T key={"cx" + i} x={x} y={865} size={17}>Inital FRET</T>)}
      {C_NAMES.map((a, i) => (
        <React.Fragment key={"cn" + i}>
          <T x={a[1]} y={688} size={16} style={CSTYLE}>{label(a[0])}</T>
          <T x={a[3]} y={706} size={16} style={CSTYLE}>({a[2]})</T>
          <T x={C_RIGHT[i]} y={688} size={16} align="r" style={CSTYLE}><i>N</i><Sub>t</Sub>={C_NT[i]}</T>
          <T x={C_RIGHT[i]} y={820} size={16} align="r" style={CSTYLE}><i>t</i>/<i>s</i> = {C_TS[i]}</T>
        </React.Fragment>
      ))}
      {colorbarLabels.map((s, i) => (
        <T key={"cb" + i} x={1216} y={[702, 738, 772, 803][i]} size={15} align="l" style={{ letterSpacing: "-0.3px" }}>
          {s}{colorbarExp[i] ? <Sup>{colorbarExp[i]}</Sup> : null}
        </T>
      ))}
    </div>
  );
}
